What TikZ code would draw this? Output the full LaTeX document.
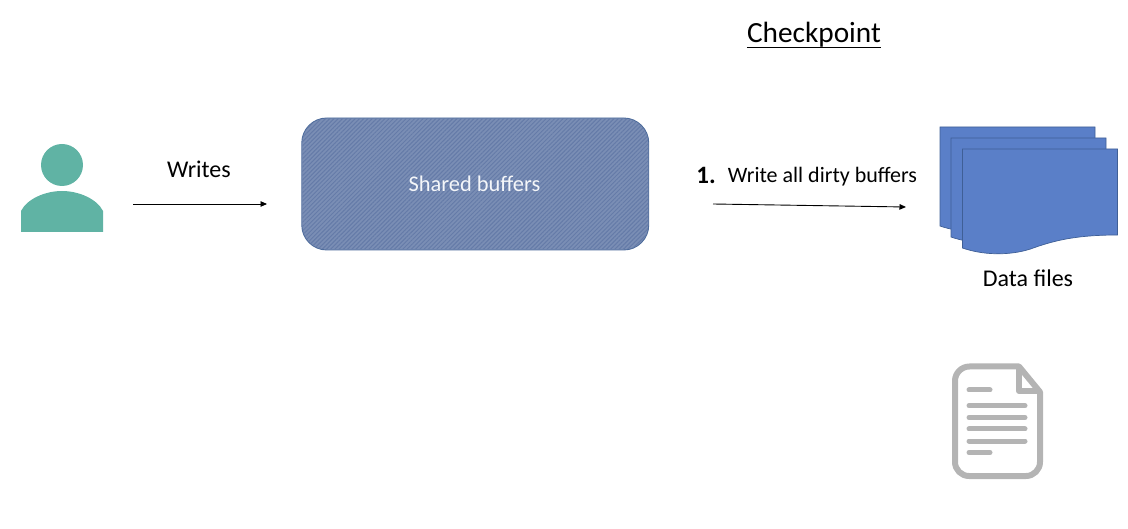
\documentclass[tikz,border=0pt]{standalone}
\usepackage{fontspec}
\setmainfont{Carlito}
\usetikzlibrary{arrows.meta,patterns.meta}
\definecolor{teal1}{HTML}{60B3A4}
\definecolor{docblue}{HTML}{5A7FC8}
\definecolor{docedge}{HTML}{3F5F96}
\definecolor{bufbase}{HTML}{7A8EB5}
\definecolor{bufline}{HTML}{657BA8}
\definecolor{bufedge}{HTML}{4E6C9C}
\definecolor{icongray}{HTML}{B4B4B4}
\tikzset{
  x=1pt,y=-1pt,
  txt/.style={inner sep=0pt,text=black,font=\fontsize{22}{26}\selectfont},
  big/.style={inner sep=0pt,text=black,font=\fontsize{24}{28}\selectfont},
  flow/.style={draw=black,line width=0.9pt,-{Triangle[length=6.5pt,width=5.5pt]}},
  sheet/.style={draw=docedge,line width=0.7pt,fill=docblue},
  iconline/.style={draw=icongray,line width=5pt,line cap=round},
}
\newcommand{\datasheet}[2]{%
  \draw[sheet,shift={(#1,#2)}] (0,0) -- (155,0) -- (155,86)
    .. controls (112,86) and (90,92) .. (68,100)
    .. controls (46,107) and (20,106) .. (0,99) -- cycle;}
\begin{document}
\begin{tikzpicture}
\useasboundingbox (0,0) rectangle (1128,529);
% person
\node[circle,fill=teal1,minimum size=42pt,inner sep=0pt] (head) at (62,165) {};
\fill[teal1] (21,232) -- (21,211) .. controls (27,199) and (45,191) .. (62,191)
  .. controls (79,191) and (97,199) .. (103,211) -- (103,232) -- cycle;
\coordinate (w1) at (133,204);
\coordinate (w2) at (267,204);
\draw[flow] (w1) -- (w2);
\node[big] (writes) at (199,169) {Writes};
% buffers
\node[draw=bufedge,line width=0.9pt,rounded corners=25pt,fill=bufbase,minimum width=347pt,minimum height=132pt,inner sep=0pt] (bufbg) at (475.25,184) {};
\node[rounded corners=25pt,pattern={Lines[angle=45,distance=3pt,line width=1pt]},pattern color=bufline,minimum width=346pt,minimum height=131pt,inner sep=0pt] (bufhatch) at (475.25,184) {};
\node[inner sep=0pt,text=white!92!bufbase,font=\fontsize{22.4}{26}\selectfont] (buflabel) at (474.5,184) {Shared buffers};
% step
\node[inner sep=0pt,font=\bfseries\fontsize{25}{30}\selectfont] (one) at (706,175) {1.};
\node[txt] (wlabel) at (822.5,176.5) {Write all dirty buffers};
\coordinate (d1) at (713,204);
\coordinate (d2) at (906,207);
\draw[flow] (d1) -- (d2);
% data files
\datasheet{940}{127}
\datasheet{951}{138}
\datasheet{962.5}{149}
\node[big] (dlabel) at (1028,278.5) {Data files};
% icon
\draw[draw=icongray,line width=6pt,line join=round] (973,366.5) -- (1019,366.5) -- (1040,392) -- (1040,462)
  arc[start angle=0,end angle=90,radius=14] -- (969,476)
  arc[start angle=90,end angle=180,radius=14] -- (955,381)
  arc[start angle=180,end angle=270,radius=14.5] -- cycle;
\draw[draw=icongray,line width=6pt,line join=round] (1019,366.5) -- (1019,391) -- (1040,391);
\draw[iconline] (969,390) -- (990,390);
\draw[iconline] (969,405.7) -- (1025,405.7);
\draw[iconline] (969,417.5) -- (1025,417.5);
\draw[iconline] (969,429) -- (1025,429);
\draw[iconline] (969,441) -- (1025,441);
\draw[iconline] (969,452.5) -- (990,452.5);
% title
\node[inner sep=0pt,font=\fontsize{29.3}{33}\selectfont] (title) at (814,35) {Checkpoint};
\draw[line width=1.6pt] ([yshift=-4.5pt]title.base west) -- ([yshift=-4.5pt]title.base east);
\end{tikzpicture}
\end{document}
